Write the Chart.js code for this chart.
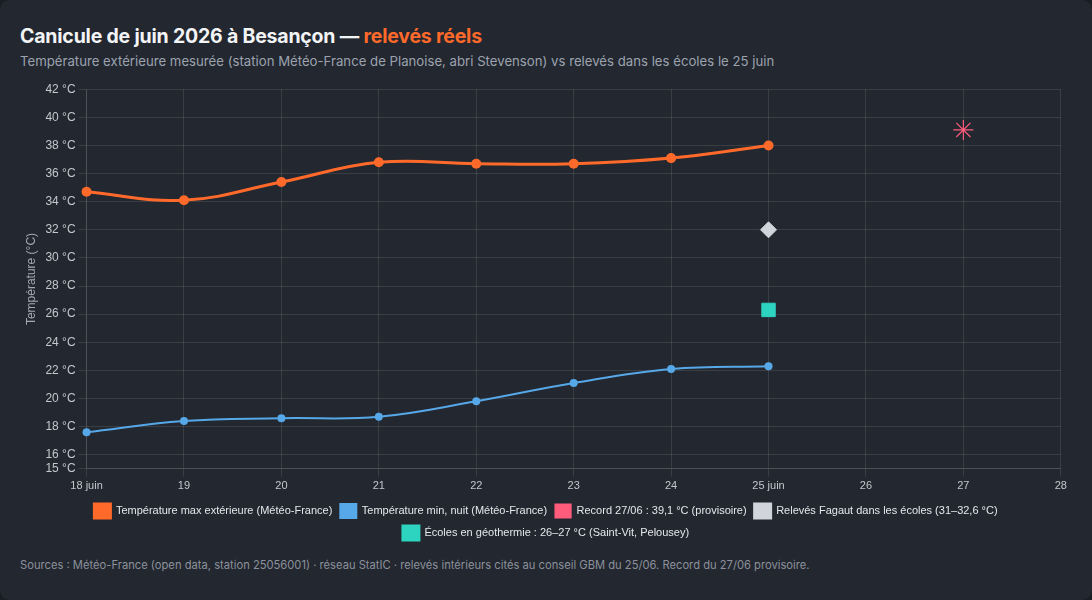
<!DOCTYPE html>
<html lang="fr">
<head>
<meta charset="utf-8">
<title>Canicule de juin 2026 à Besançon</title>
<script src="https://cdn.jsdelivr.net/npm/chart.js@4.4.1/dist/chart.umd.min.js"></script>
<style>
  html, body { margin: 0; padding: 0; background: #1a1d23; }
  .card {
    width: 1092px; height: 600px; box-sizing: border-box;
    background: #23272f; border-radius: 10px;
    padding: 24px 20px 0 20px; font-family: Inter, "Noto Sans", sans-serif;
  }
  h1 { margin: 0; font-size: 19.5px; font-weight: 700; color: #f3f4f6; letter-spacing: -0.2px; }
  h1 span { color: #ff6a2b; }
  .sub { margin: 5px 0 0 0; font-size: 13.2px; color: #9ca3af; }
  .wrap { position: relative; width: 1052px; height: 472px; margin-top: 9px; }
  .foot { margin: 8px 0 0 0; font-size: 11.2px; color: #8b919c; }
</style>
</head>
<body>
<div class="card">
  <h1>Canicule de juin 2026 à Besançon — <span>relevés réels</span></h1>
  <p class="sub">Température extérieure mesurée (station Météo-France de Planoise, abri Stevenson) vs relevés dans les écoles le 25 juin</p>
  <div class="wrap"><canvas id="chart"></canvas></div>
  <p class="foot">Sources : Météo-France (open data, station 25056001) · réseau StatIC · relevés intérieurs cités au conseil GBM du 25/06. Record du 27/06 provisoire.</p>
</div>
<script>
// Data
const days = [18, 19, 20, 21, 22, 23, 24, 25];
const maxTemps = [34.7, 34.1, 35.4, 36.8, 36.7, 36.7, 37.1, 38.0];
const minTemps = [17.6, 18.4, 18.6, 18.7, 19.8, 21.1, 22.1, 22.3];
const recordDay = [27];
const recordTemp = [39.1];
const fagautDay = [25];
const fagautTemp = [32.0];
const geoDay = [25];
const geoTemp = [26.3];

const pts = (xs, ys) => xs.map((x, i) => ({ x: x, y: ys[i] }));

Chart.defaults.color = '#c3c7ce';
Chart.defaults.font.family = "'Liberation Sans', Arial, sans-serif";

const grid = 'rgba(255, 255, 255, 0.10)';

new Chart(document.getElementById('chart'), {
  type: 'line',
  data: {
    datasets: [
      {
        label: 'Température max extérieure (Météo-France)',
        data: pts(days, maxTemps),
        borderColor: '#ff6a2b',
        backgroundColor: '#ff6a2b',
        borderWidth: 3,
        pointRadius: 5,
        pointBorderWidth: 0,
        tension: 0.4,
        clip: false
      },
      {
        label: 'Température min, nuit (Météo-France)',
        data: pts(days, minTemps),
        borderColor: '#56a8e8',
        backgroundColor: '#56a8e8',
        borderWidth: 2,
        pointRadius: 4,
        pointBorderWidth: 0,
        tension: 0.4,
        clip: false
      },
      {
        label: 'Record 27/06 : 39,1 °C (provisoire)',
        data: pts(recordDay, recordTemp),
        showLine: false,
        pointStyle: 'star',
        pointRadius: 10,
        borderColor: '#ff5c7c',
        backgroundColor: '#ff5c7c',
        borderWidth: 1.2
      },
      {
        label: 'Relevés Fagaut dans les écoles (31–32,6 °C)',
        data: pts(fagautDay, fagautTemp),
        showLine: false,
        pointStyle: 'rectRot',
        pointRadius: 8,
        borderColor: '#d1d5db',
        backgroundColor: '#d1d5db'
      },
      {
        label: 'Écoles en géothermie : 26–27 °C (Saint-Vit, Pelousey)',
        data: pts(geoDay, geoTemp),
        showLine: false,
        pointStyle: 'rect',
        pointRadius: 9.5,
        borderColor: '#2dd4bf',
        backgroundColor: '#2dd4bf'
      }
    ]
  },
  options: {
    responsive: true,
    maintainAspectRatio: false,
    animation: false,
    layout: { padding: { top: 10 } },
    plugins: {
      legend: {
        position: 'bottom',
        labels: {
          boxWidth: 16,
          boxHeight: 14,
          padding: 8,
          font: { size: 11 },
          color: '#e5e7eb'
        }
      },
      tooltip: { enabled: true }
    },
    scales: {
      x: {
        type: 'linear',
        min: 18,
        max: 28,
        grid: { color: grid },
        border: { color: grid },
        ticks: {
          stepSize: 1,
          font: { size: 11 },
          callback: v => (v === 18 || v === 25) ? v + ' juin' : String(v)
        }
      },
      y: {
        min: 15,
        max: 42,
        grid: { color: grid },
        border: { color: grid },
        title: { display: true, text: 'Température (°C)', color: '#a4a9b2', font: { size: 12 } },
        ticks: {
          stepSize: 2,
          font: { size: 12 },
          callback: v => v + ' °C'
        }
      }
    }
  }
});
</script>
</body>
</html>
